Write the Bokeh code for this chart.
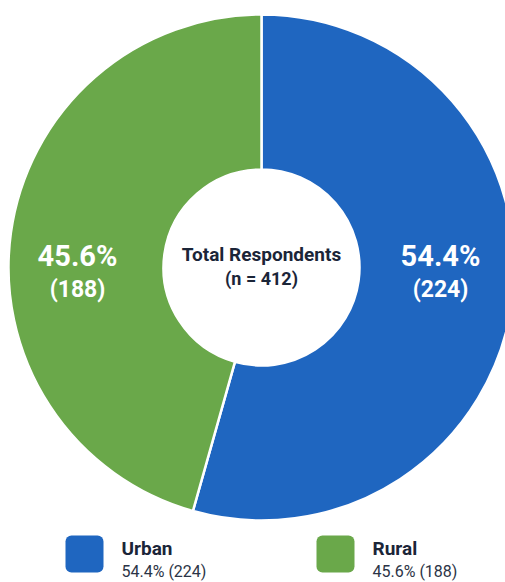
import math
from bokeh.plotting import figure
from bokeh.models import Range1d, ColumnDataSource
from bokeh.core.properties import value
from bokeh.embed import file_html
from bokeh.resources import INLINE

# ---- data ----
categories = ["Urban", "Rural"]
counts = [224, 188]
percents = ["54.4%", "45.6%"]
colors = ["#1f66c0", "#6aa84a"]
total_label = "Total Respondents"
n_label = "(n = 412)"

W, H = 505, 582
p = figure(width=W, height=H, output_backend="svg", toolbar_location=None,
           x_range=Range1d(0, W), y_range=Range1d(0, H), min_border=0)
p.axis.visible = False
p.grid.visible = False
p.outline_line_color = None
p.background_fill_color = "white"
p.border_fill_color = "white"

cx, cy = 261, H - 267
r_out, r_in = 253, 98

total = sum(counts)
start = math.pi / 2
starts, ends = [], []
for c in counts:
    sweep = 2 * math.pi * c / total
    # clockwise from the top
    ends.append(start)
    starts.append(start - sweep)
    start -= sweep

src = ColumnDataSource(dict(cat=categories, start=starts, end=ends, color=colors))
p.annular_wedge(x=cx, y=cy, inner_radius=r_in, outer_radius=r_out,
                start_angle="start", end_angle="end", fill_color="color",
                line_color="white", line_width=2.5, source=src)

# slice labels
lab_dx = [179, -184]
lab_x = [cx + d for d in lab_dx]
p.text(x=lab_x, y=[H - 255] * 2, text=percents, text_color="white",
       text_font=value("Roboto"), text_font_style="bold", text_font_size="29px",
       text_align="center", text_baseline="middle")
p.text(x=lab_x, y=[H - 289] * 2, text=[f"({c})" for c in counts], text_color="white",
       text_font=value("Roboto"), text_font_style="bold", text_font_size="23px",
       text_align="center", text_baseline="middle")

# centre labels
p.text(x=[cx], y=[H - 254], text=[total_label], text_color="#1b2538",
       text_font=value("Roboto"), text_font_style="bold", text_font_size="19px",
       text_align="center", text_baseline="middle")
p.text(x=[cx], y=[H - 278], text=[n_label], text_color="#1b2538",
       text_font=value("Roboto"), text_font_style="bold", text_font_size="18px",
       text_align="center", text_baseline="middle")

# legend
leg_x = [65, 316]
sq = 38
p.quad(left=leg_x, right=[x + sq for x in leg_x], top=[H - 535] * 2,
       bottom=[H - 535 - sq + 1] * 2, fill_color=colors, line_color=None,
       border_radius=6)
p.text(x=[x + 56 for x in leg_x], y=[H - 548] * 2, text=categories, text_color="#1b2538",
       text_font=value("Roboto"), text_font_style="bold", text_font_size="19px",
       text_align="left", text_baseline="middle")
p.text(x=[x + 56 for x in leg_x], y=[H - 571] * 2,
       text=[f"{pc} ({c})" for pc, c in zip(percents, counts)], text_color="#2b3446",
       text_font=value("Roboto"), text_font_size="16px",
       text_align="left", text_baseline="middle")

open("out.html", "w").write(file_html(p, INLINE))
